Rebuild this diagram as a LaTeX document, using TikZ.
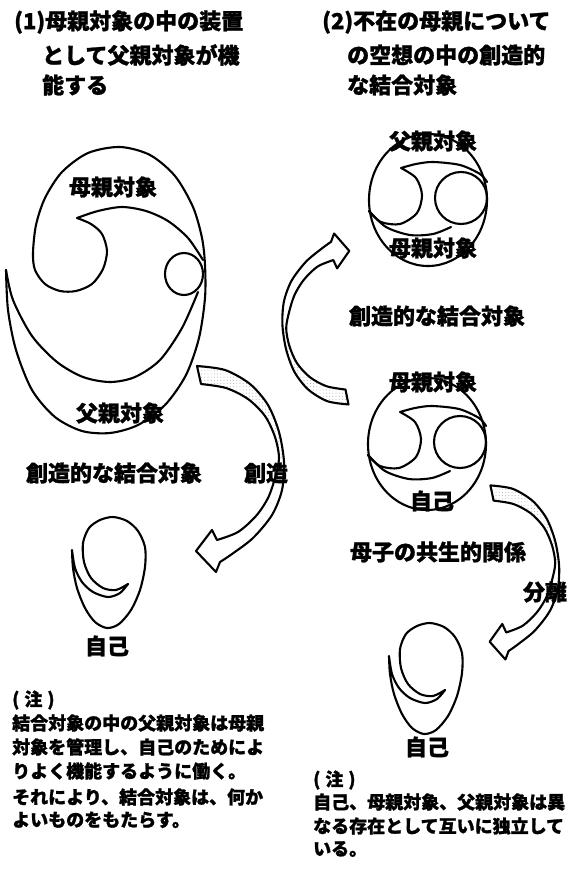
\documentclass[tikz,border=0pt]{standalone}
\usepackage{fontspec}
\setmainfont{Noto Sans CJK JP}[BoldFeatures={FakeBold=1.2}]
\usetikzlibrary{patterns.meta}

\tikzset{
  ln/.style={line width=2.1pt},
  lbl/.style={font=\bfseries\fontsize{22}{22}\selectfont, inner sep=0pt},
  ttl/.style={lbl, anchor=west},
  nt/.style={font=\bfseries\fontsize{18}{18}\selectfont, inner sep=0pt, anchor=west},
  % hollow curved block arrow, tail at the origin, head pointing left
  blockarrow/.pic={
    \fill[pattern={Dots[distance=3.2pt,radius=0.45pt]}, pattern color=gray!75]
      plot[smooth] coordinates {(-2,-9) (26,-5) (51,9) (69,30) (80,57) (85,87)}
      -- plot[smooth] coordinates {(80,83) (76,62) (66,41) (49,24) (27,13) (2,9)} -- cycle;
    \draw[ln]
      plot[smooth] coordinates {(-2,-9) (26,-5) (51,9) (69,30) (80,57) (85,87) (83,115) (73,140) (54,163) (33,179) (21,187)}
      -- (17,197) -- (-3,176) -- (13,155)
      -- plot[smooth] coordinates {(18,165) (39,157) (57,141) (69,123) (76,103) (80,83) (76,62) (66,41) (49,24) (27,13) (2,9)}
      -- cycle;
  },
  % circle with two interlocking commas
  tomoe/.pic={
    \draw[ln] (0,0) ellipse[x radius=59, y radius=66];
    \draw[ln] (33,-2) circle[radius=26];
    \draw[ln] plot[smooth] coordinates {(59,-18) (52,-26) (32,-35) (5,-38) (-12,-36) (-27,-32)}
      -- plot[smooth] coordinates {(-27,-32) (-12,-22) (-6,-5) (-11,13) (-28,24) (-47,22) (-59,11)};
    \draw[ln] plot[smooth] coordinates {(-59,11) (-42,27) (-18,35) (5,34) (23,27)};
  },
  % head with a crescent cupped beneath it
  selfshape/.pic={
    \draw[ln]
      plot[smooth] coordinates {(18,9) (6,15) (-7,13) (-19,3) (-26,-13) (-27,-32) (-21,-47) (-10,-55) (3,-58) (17,-54) (28,-44) (35,-28) (35,-8) (30,15) (21,35) (9,49) (-3,53) (-15,47) (-25,33) (-33,13) (-37,-7) (-38,-25)}
      -- plot[smooth] coordinates {(-38,-25) (-35,-7) (-28,7) (-17,17) (-2,22) (10,18) (18,9)};
  }
}

\begin{document}
\begin{tikzpicture}[x=1pt, y=-1pt, line join=round, line cap=round]
\useasboundingbox (0,0) rectangle (569,870);
\fill[white] (0,0) rectangle (569,870);

% ---- titles
\node[ttl] (t1a) at (14,22) {(1)母親対象の中の装置};
\node[ttl] (t1b) at (42,55) {として父親対象が機};
\node[ttl] (t1c) at (42,85) {能する};
\node[ttl] (t2a) at (322,22) {(2)不在の母親について};
\node[ttl] (t2b) at (347,55) {の空想の中の創造的};
\node[ttl] (t2c) at (347,85) {な結合対象};

% ---- left: mother object containing the father object
\draw[ln] plot[smooth] coordinates {(77,218) (91,224) (102,234) (107,251) (103,269) (92,284) (76,291) (60,291) (45,284) (35,270) (33,253) (36,225) (45,198) (62,172) (88,153) (120,147) (150,155) (175,176) (193,207) (202,238) (205,265) (205,298) (199,338) (186,375) (165,405) (138,425) (110,433) (82,431) (55,417) (32,390) (16,350) (8,310) (6,270)};
\draw[ln] plot[smooth] coordinates {(6,270) (13,300) (32,336) (57,362) (83,377) (110,382) (135,377) (160,360) (182,328) (198,292)};
\draw[ln] plot[smooth] coordinates {(77,218) (98,211) (122,207) (146,211) (168,221) (188,238) (203,260)};
\draw[ln] (184,274) ellipse[x radius=19, y radius=21];

% ---- right: two tomoe circles
\pic at (428,200) {tomoe};
\pic at (427,444) {tomoe};

% ---- self figures
\pic at (110,575) {selfshape};
\pic at (427,681) {selfshape};

% ---- block arrows
\pic at (199,375) {blockarrow};
\pic[rotate=180, xscale=0.76, yscale=0.83] at (347,397) {blockarrow};
\pic[xscale=0.79, yscale=0.845] at (492,493) {blockarrow};

% ---- labels
\node[lbl] (mL) at (113,187) {母親対象};
\node[lbl] (fL) at (120,413) {父親対象};
\node[lbl] (cbL) at (114,473) {創造的な結合対象};
\node[lbl] (cr) at (266,473) {創造};
\node[lbl] (sL) at (107,646) {自己};
\node[lbl] (fR) at (433,141) {父親対象};
\node[lbl] (mR1) at (433,248) {母親対象};
\node[lbl] (cbR) at (437,316) {創造的な結合対象};
\node[lbl] (mR2) at (433,382) {母親対象};
\node[lbl] (sR1) at (432,501) {自己};
\node[lbl] (sym) at (438,552) {母子の共生的関係};
\node[lbl] (sep) at (545,592) {分離};
\node[lbl] (sR2) at (427,747) {自己};

% ---- notes
\node[nt] (n1h) at (12,700) {(\hspace{5pt}注\hspace{5pt})};
\node[nt] (n1a) at (12,723) {結合対象の中の父親対象は母親};
\node[nt] (n1b) at (12,747) {対象を管理し、自己のためによ};
\node[nt] (n1c) at (12,771) {りよく機能するように働く。};
\node[nt] (n1d) at (12,797) {それにより、結合対象は、何か};
\node[nt] (n1e) at (12,820) {よいものをもたらす。};

\node[nt] (n2h) at (313,780) {(\hspace{5pt}注\hspace{5pt})};
\node[nt] (n2a) at (313,802) {自己、母親対象、父親対象は異};
\node[nt] (n2b) at (313,826) {なる存在として互いに独立して};
\node[nt] (n2c) at (313,849) {いる。};
\end{tikzpicture}
\end{document}
